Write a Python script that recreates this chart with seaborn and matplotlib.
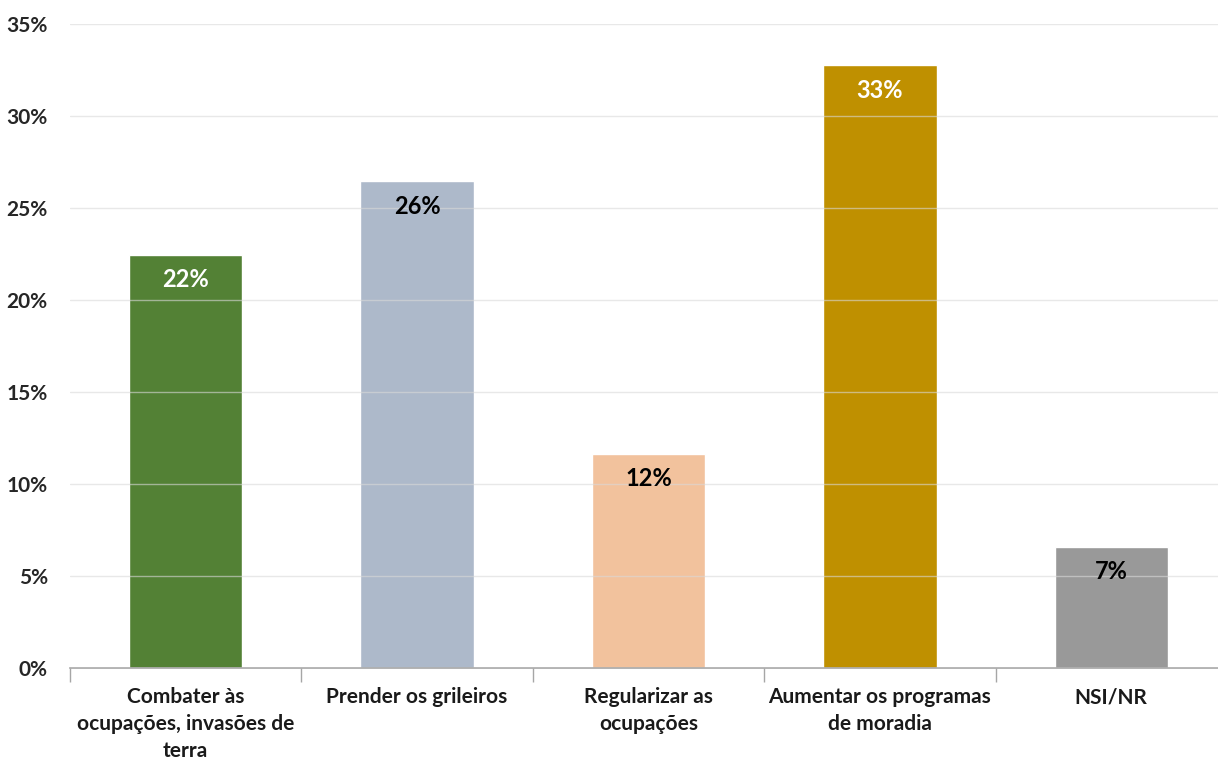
import numpy as np
import pandas as pd
import seaborn as sns
import matplotlib.pyplot as plt
from matplotlib.ticker import FuncFormatter

categories = ['Combater às\nocupações, invasões de\nterra', 'Prender os grileiros',
              'Regularizar as\nocupações', 'Aumentar os programas\nde moradia', 'NSI/NR']
values = [22.45, 26.45, 11.65, 32.75, 6.6]
labels = ['22%', '26%', '12%', '33%', '7%']
colors = ['#538135', '#ADB9CA', '#F2C29D', '#BF9000', '#999999']
label_colors = ['white', 'black', 'black', 'white', 'black']

sns.set_style('white')
plt.rcParams['font.family'] = ['Lato', 'DejaVu Sans']
plt.rcParams['font.weight'] = 'bold'

df = pd.DataFrame({'cat': categories, 'val': values})

fig = plt.figure(figsize=(12.18, 7.62), dpi=100)
ax = fig.add_axes([70 / 1218, 94 / 762, 1157 / 1218, 644 / 762])
sns.barplot(data=df, x='cat', y='val', hue='cat', palette=colors, width=0.49,
            legend=False, ax=ax, saturation=1)

ax.set_ylim(0, 35)
ax.set_xlim(-0.5, 4.5)
ax.set_yticks(np.arange(0, 36, 5))
ax.yaxis.set_major_formatter(FuncFormatter(lambda v, p: f'{v:.0f}%'))
ax.grid(axis='y', color='#D9D9D9', linewidth=1, alpha=0.6)
ax.set_axisbelow(False)
ax.set_xlabel('')
ax.set_ylabel('')

for s in ['top', 'right', 'left']:
    ax.spines[s].set_visible(False)
ax.spines['bottom'].set_color('#A6A6A6')
ax.spines['bottom'].set_linewidth(1.2)

ax.set_xticks(range(len(categories)))
ax.set_xticklabels(categories, fontsize=15, fontweight='bold', color='#1a1a1a', linespacing=1.42)
ax.tick_params(axis='x', length=0, pad=14)
ax.tick_params(axis='y', length=0, labelsize=15, pad=16)
for t in ax.get_yticklabels():
    t.set_fontweight('bold')

# separators between categories
ax.set_xticks(np.arange(-0.5, 5, 1), minor=True)
ax.tick_params(axis='x', which='minor', bottom=True, length=10, width=1,
               color='#A6A6A6', direction='out')

for i, (v, lab) in enumerate(zip(values, labels)):
    ax.annotate(lab, (i, v), xytext=(0, -25), textcoords='offset pixels',
                ha='center', va='center', fontsize=17, fontweight='bold',
                color=label_colors[i])

fig.savefig('out.png', dpi=100)
